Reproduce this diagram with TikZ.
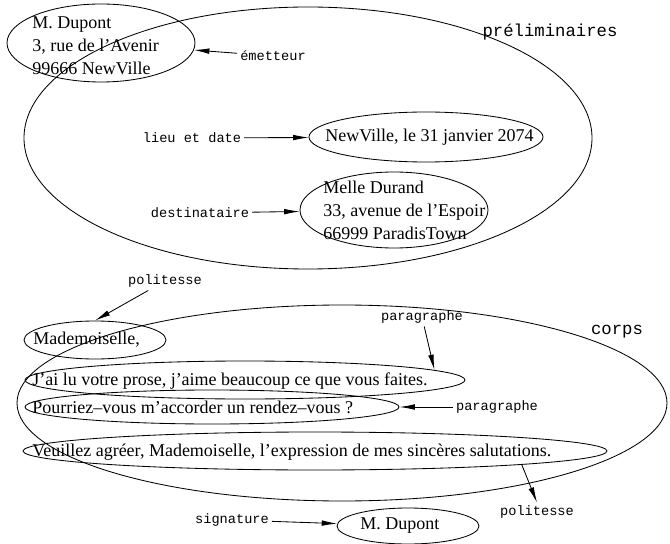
\documentclass[tikz,border=0pt]{standalone}
\usepackage{fontspec}
\setmainfont{Liberation Serif}
\setmonofont{Liberation Mono}
\usetikzlibrary{positioning,shapes.geometric,arrows.meta}
\newcommand\pxu{0.025cm}

\begin{document}
\begin{tikzpicture}[x=0.025cm, y=-0.025cm,
        zone/.style={ellipse, draw, inner sep=0pt, line width=0.6pt},
        txt/.style={anchor=west, inner sep=0pt, align=left, font=\fontsize{12.8}{16.4}\selectfont},
        lbl/.style={font=\ttfamily\fontsize{9.7}{11}\selectfont, inner sep=2pt},
        part/.style={font=\ttfamily\fontsize{12.3}{14}\selectfont},
        arrow/.style={-{Latex[length=11pt,width=4pt]}, line width=0.6pt}
    ]
        \useasboundingbox (0,0) rectangle (670,544);

        \node[zone, minimum width=568*\pxu, minimum height=262*\pxu] (prelim) at (308,138) {};
        \node[zone, minimum width=650*\pxu, minimum height=196*\pxu] (corps) at (342,403) {};

        \node[zone, minimum width=188*\pxu, minimum height=78*\pxu] (exp) at (101,43) {};
        \node[zone, minimum width=234*\pxu, minimum height=50*\pxu] (date) at (426,137) {};
        \node[zone, minimum width=188*\pxu, minimum height=76*\pxu] (destin) at (394,210) {};
        \node[zone, minimum width=142*\pxu, minimum height=38*\pxu] (mad) at (95,340) {};
        \node[zone, minimum width=440*\pxu, minimum height=38*\pxu] (par1) at (245,380) {};
        \node[zone, minimum width=374*\pxu, minimum height=34*\pxu] (par2) at (212,407) {};
        \node[zone, minimum width=584*\pxu, minimum height=38*\pxu] (par3) at (315,451) {};
        \node[zone, minimum width=142*\pxu, minimum height=36*\pxu] (sign) at (408,526) {};

        \node[txt] (exptext) at (32,46) {M. Dupont\\3, rue de l'Avenir\\99666 NewVille};
        \node[txt] (datetext) at (325,137) {NewVille, le 31 janvier 2074};
        \node[txt] (destintext) at (323,210) {Melle Durand\\33, avenue de l'Espoir\\66999 ParadisTown};
        \node[txt] (madtext) at (33,340) {Mademoiselle,};
        \node[txt] (par1text) at (32,381) {J'ai lu votre prose, j'aime beaucoup ce que vous faites.};
        \node[txt] (par2text) at (32,407) {Pourriez--vous m'accorder un rendez--vous ?};
        \node[txt] (par3text) at (32,452) {Veuillez agréer, Mademoiselle, l'expression de mes sincères salutations.};
        \node[txt] (signtext) at (360,526) {M. Dupont};

        \node[part] (prelimlbl) at (550,32) {préliminaires};
        \node[part] (corpslbl) at (617,332) {corps};

        \node[lbl] (emet) at (273,56) {émetteur};
        \node[lbl] (lieu) at (192,138) {lieu et date};
        \node[lbl] (dest) at (200,213) {destinataire};
        \node[lbl] (pol1) at (165,281) {politesse};
        \node[lbl] (para1) at (422,317) {paragraphe};
        \node[lbl] (para2) at (497,407) {paragraphe};
        \node[lbl] (pol2) at (537,512) {politesse};
        \node[lbl] (sig) at (232,520) {signature};

        \draw[arrow] (emet) -- (exp);
        \draw[arrow] (lieu) -- (date);
        \draw[arrow] (dest) -- (destin);
        \draw[arrow] (pol1) -- (mad.north);
        \draw[arrow] (para1) -- (par1.3);
        \draw[arrow] (para2) -- (par2);
        \draw[arrow] (par3.south east) -- (pol2.north);
        \draw[arrow] (sig) -- (sign);
    \end{tikzpicture}
\end{document}
